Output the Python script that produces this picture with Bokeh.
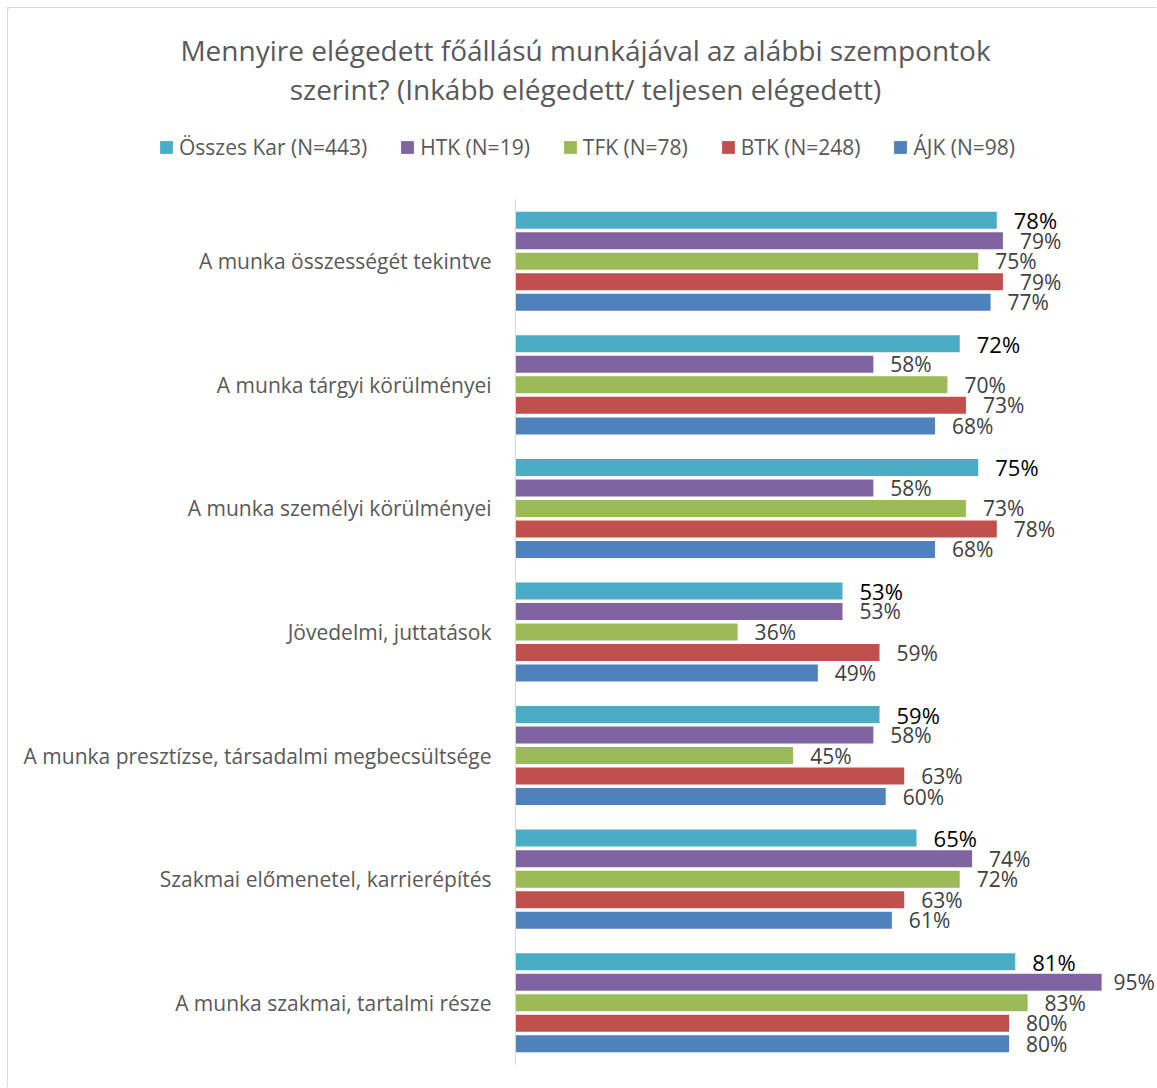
from bokeh.plotting import figure
from bokeh.models import FactorRange, Range1d, Legend, LegendItem, ColumnDataSource
from bokeh.transform import dodge
from bokeh.core.properties import value
from bokeh.embed import file_html
from bokeh.resources import INLINE

title_lines = ["Mennyire elégedett főállású munkájával az alábbi szempontok",
               "szerint? (Inkább elégedett/ teljesen elégedett)"]

categories = [
    "A munka összességét tekintve",
    "A munka tárgyi körülményei",
    "A munka személyi körülményei",
    "Jövedelmi, juttatások",
    "A munka presztízse, társadalmi megbecsültsége",
    "Szakmai előmenetel, karrierépítés",
    "A munka szakmai, tartalmi része",
]

series_names = ["Összes Kar (N=443)", "HTK (N=19)", "TFK (N=78)", "BTK (N=248)", "ÁJK (N=98)"]
osszes = [78, 72, 75, 53, 59, 65, 81]
htk = [79, 58, 58, 53, 58, 74, 95]
tfk = [75, 70, 73, 36, 45, 72, 83]
btk = [79, 73, 78, 59, 63, 63, 80]
ajk = [77, 68, 68, 49, 60, 61, 80]
series_values = [osszes, htk, tfk, btk, ajk]
colors = ["#4BACC6", "#8064A2", "#9BBB59", "#C0504D", "#4F81BD"]

FONT = "Open Sans"
W = 1149
TOP_H = 192
LEFT, BOTTOM = 507, 23
MAIN_H = 1080 - TOP_H
FRAME_W = W - LEFT
PX_PER_UNIT = 617.0  # pixels per 100%
BORDER = "1px solid #d9d9d9"

# ---------- header: title + legend ----------
top = figure(width=W, height=TOP_H, output_backend="svg", toolbar_location=None,
             x_range=Range1d(8, 8 + W), y_range=Range1d(8 + TOP_H, 8),
             min_border=0, title_location=None,
             styles={"margin-left": "7px", "margin-top": "7px",
                     "border-left": BORDER, "border-top": BORDER})
top.axis.visible = False
top.grid.visible = False
top.outline_line_color = None

tsrc = ColumnDataSource(dict(x=[585, 585], y=[49, 88], t=title_lines))
top.text(x="x", y="y", text="t", source=tsrc, text_align="center", text_baseline="middle",
         text_font=value(FONT), text_font_size="28px", text_color="#595959")

legend_items = []
for name, col in zip(series_names, colors):
    # legend swatch renderer (its single bar lies outside the visible header range)
    r = top.hbar(y=[-1000], right=[-1000], left=-1001, height=1, fill_color=col, line_color=None)
    legend_items.append(LegendItem(label=name, renderers=[r]))
legend = Legend(items=legend_items, orientation="horizontal",
                location=(158 - 8, TOP_H - (149 - 8) - 12),
                padding=0, margin=0, spacing=32, label_standoff=5,
                glyph_width=16, glyph_height=16, label_height=24,
                label_text_font=FONT, label_text_font_size="21px", label_text_color="#595959",
                label_text_baseline="middle",
                border_line_color=None, background_fill_alpha=0)
top.add_layout(legend, "center")

# ---------- main bar chart ----------
p = figure(width=W, height=MAIN_H, output_backend="svg", toolbar_location=None,
           y_range=FactorRange(factors=list(reversed(categories))),
           x_range=Range1d(0, FRAME_W / PX_PER_UNIT),
           min_border_left=LEFT, min_border_right=0, min_border_top=0, min_border_bottom=BOTTOM,
           title_location=None,
           styles={"margin-left": "7px", "border-left": BORDER})
p.outline_line_color = None
p.xgrid.visible = False
p.ygrid.visible = False
p.xaxis.visible = False

yax = p.yaxis[0]
yax.axis_line_color = "#d9d9d9"
yax.axis_line_width = 1
yax.major_tick_line_color = None
yax.minor_tick_line_color = None
yax.major_tick_out = 0
yax.major_tick_in = 0
yax.major_label_standoff = 24
yax.major_label_text_font = FONT
yax.major_label_text_font_size = "21px"
yax.major_label_text_color = "#595959"

step = 20.5 / 123.5
bar_h = 17.0 / 123.5
offsets = [2 * step, step, 0.0, -step, -2 * step]

LABEL_GAP, LABEL_W = 17, 41
for i, (vals, col, off) in enumerate(zip(series_values, colors, offsets)):
    # labels that would run past the right edge are nudged left (as Excel does)
    xoff = [min(LABEL_GAP, FRAME_W - 3 - LABEL_W - x / 100 * PX_PER_UNIT) for x in vals]
    src = ColumnDataSource(dict(cat=categories, v=[x / 100 for x in vals],
                                lab=[f"{x}%" for x in vals], xoff=xoff))
    p.hbar(y=dodge("cat", off, range=p.y_range), right="v", left=0, height=bar_h,
           source=src, fill_color=col, line_color=None)
    p.text(x="v", y=dodge("cat", off, range=p.y_range), text="lab", source=src,
           x_offset="xoff", text_align="left", text_baseline="middle",
           text_font=value(FONT),
           text_font_size="22px" if i == 0 else "21px",
           text_color="#000000" if i == 0 else "#404040")

open("out.html", "w").write(file_html([top, p], INLINE))
